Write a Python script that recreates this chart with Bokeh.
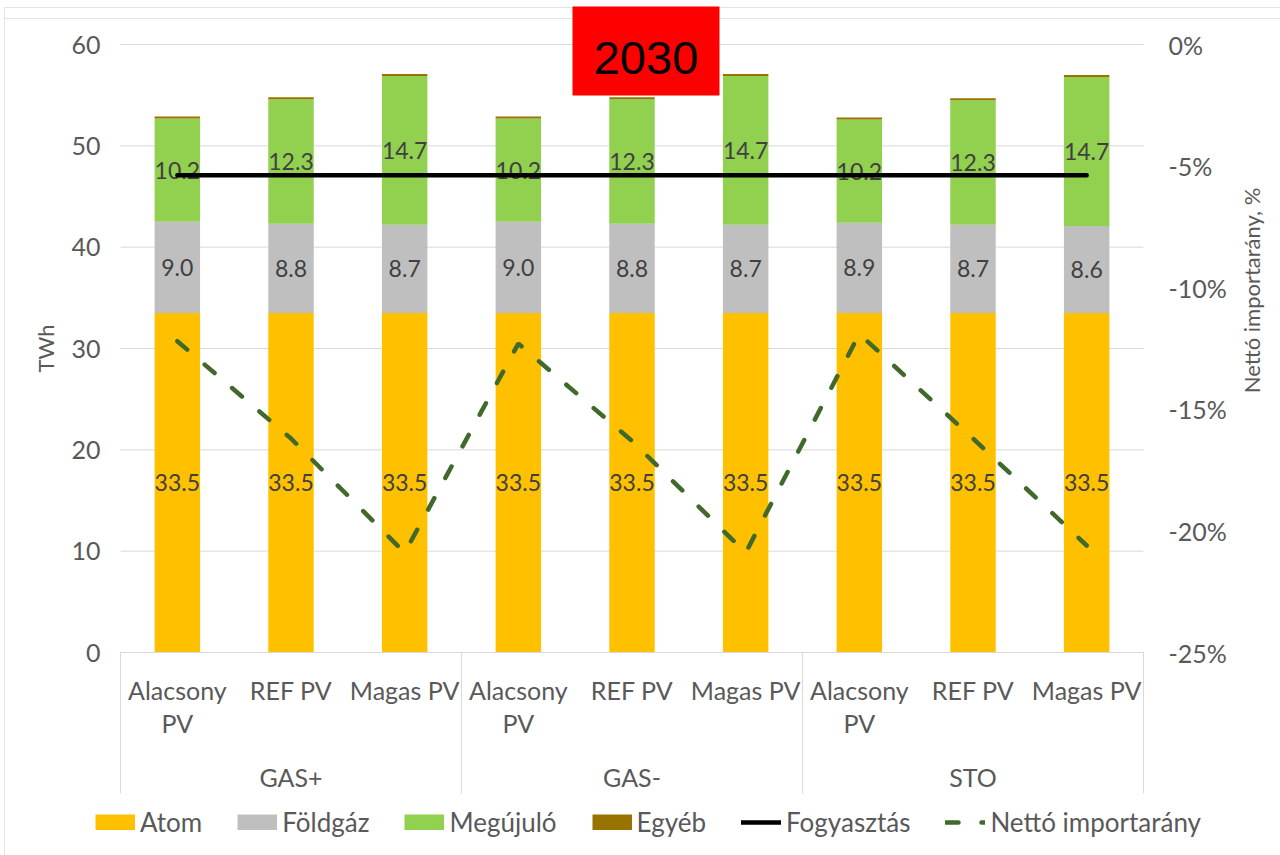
from math import pi

from bokeh.core.properties import value
from bokeh.embed import file_html
from bokeh.models import ColumnDataSource, Legend, LegendItem, Range1d
from bokeh.plotting import figure
from bokeh.resources import INLINE

# ---- data -----------------------------------------------------------------
scenarios = ["GAS+", "GAS-", "STO"]
pv_cases = ["Alacsony PV", "REF PV", "Magas PV"]
pv_tick_lines = [["Alacsony", "PV"], ["REF PV"], ["Magas PV"]]

atom = [33.5, 33.5, 33.5, 33.5, 33.5, 33.5, 33.5, 33.5, 33.5]
foldgaz = [9.0, 8.8, 8.7, 9.0, 8.8, 8.7, 8.9, 8.7, 8.6]
megujulo = [10.2, 12.3, 14.7, 10.2, 12.3, 14.7, 10.2, 12.3, 14.7]
egyeb = [0.2, 0.2, 0.2, 0.2, 0.2, 0.2, 0.2, 0.2, 0.2]
fogyasztas = [47.1, 47.1, 47.1, 47.1, 47.1, 47.1, 47.1, 47.1, 47.1]
netto_import = [-12.2, -16.2, -20.9, -12.3, -16.3, -20.9, -11.9, -16.2, -20.6]

twh_ticks = [0, 10, 20, 30, 40, 50, 60]
pct_ticks = [-25, -20, -15, -10, -5, 0]
year_label = "2030"

# ---- colours / fonts --------------------------------------------------------
C_ATOM, C_GAS, C_REN, C_OTHER = "#FFC000", "#BFBFBF", "#92D050", "#997300"
C_CONS, C_IMP = "#000000", "#41692C"
TXT, LBL, RULE = "#595959", "#404040", "#D9D9D9"
FONT = "Lato"

# ---- layout: the canvas is one frame, the bar area sits inside it -----------
W, H = 1280, 855
AREA_L, AREA_R, AREA_T, AREA_B = 120, 1143, 44, 652   # bar area, px
TWH_MAX, PCT_MIN = 60.0, -25.0
n = len(scenarios) * len(pv_cases)
ux = (AREA_R - AREA_L) / n          # px per category
uy = (AREA_B - AREA_T) / TWH_MAX    # px per TWh


def col(px):
    """canvas x pixel -> category coordinate"""
    return (px - AREA_L) / ux


def row(py):
    """canvas y pixel -> TWh coordinate"""
    return (AREA_B - py) / uy


def to_pct(v):
    return v * (-PCT_MIN) / TWH_MAX + PCT_MIN


xs = [i + 0.5 for i in range(n)]

p = figure(width=W, height=H, output_backend="svg", toolbar_location=None,
           x_range=Range1d(col(0), col(W)), y_range=Range1d(row(H), row(0)),
           x_axis_location=None, y_axis_location=None,
           min_border=0, min_border_left=0, min_border_right=0,
           min_border_top=0, min_border_bottom=0)
p.outline_line_color = None
p.background_fill_color = "white"
p.border_fill_color = "white"
p.grid.visible = False
p.extra_y_ranges = {"pct": Range1d(to_pct(row(H)), to_pct(row(0)))}

# chart border
p.segment(x0=[col(4), col(4)], y0=[row(7), row(18)], x1=[col(W), col(W)],
          y1=[row(7), row(18)], line_color="#E3E3E3", line_width=1)
p.segment(x0=[col(4)], y0=[row(7)], x1=[col(4)], y1=[row(H)],
          line_color="#E3E3E3", line_width=1)

# horizontal grid at the TWh ticks
p.segment(x0=[0] * len(twh_ticks), y0=twh_ticks, x1=[n] * len(twh_ticks),
          y1=twh_ticks, line_color=RULE, line_width=1)

# left axis (TWh) tick labels
p.text(x=[col(AREA_L - 20)] * len(twh_ticks), y=twh_ticks,
       text=[str(t) for t in twh_ticks], text_align="right",
       text_baseline="middle", text_font=value(FONT), text_font_size="25px",
       text_color=TXT)
# right axis (%) tick labels
p.text(x=[col(AREA_R + 25)] * len(pct_ticks), y=pct_ticks,
       text=[f"{t}%" for t in pct_ticks], y_range_name="pct",
       text_align="left", text_baseline="middle", text_font=value(FONT),
       text_font_size="25px", text_color=TXT)

# axis titles
p.text(x=[col(45)], y=[TWH_MAX / 2], text=["TWh"], angle=pi / 2,
       text_align="center", text_baseline="middle", text_font=value(FONT),
       text_font_size="22px", text_color=TXT)
p.text(x=[col(1251)], y=[row(290)], text=["Nettó importarány, %"],
       angle=pi / 2, text_align="center", text_baseline="middle",
       text_font=value(FONT), text_font_size="22px", text_color=TXT)

# ---- stacked bars -----------------------------------------------------------
src = ColumnDataSource(dict(x=xs, atom=atom, foldgaz=foldgaz,
                            megujulo=megujulo, egyeb=egyeb))
p.vbar_stack(["atom", "foldgaz", "megujulo", "egyeb"], x="x", width=0.4,
             source=src, color=[C_ATOM, C_GAS, C_REN, C_OTHER],
             line_color=None)

# value labels centred in each segment (Egyéb too thin to label)
lab_x, lab_y, lab_t = [], [], []
for i in range(n):
    base = 0.0
    for seg in (atom[i], foldgaz[i], megujulo[i]):
        lab_x.append(xs[i])
        lab_y.append(base + seg / 2.0)
        lab_t.append(f"{seg:.1f}")
        base += seg
p.text(x=lab_x, y=lab_y, text=lab_t, text_align="center",
       text_baseline="middle", text_font=value(FONT), text_font_size="23px",
       text_color=LBL)

# ---- lines ------------------------------------------------------------------
cons = p.line(xs, fogyasztas, line_color=C_CONS, line_width=4.5,
              line_cap="round")
imp = p.line(xs, netto_import, y_range_name="pct", line_color=C_IMP,
             line_width=4.5, line_dash="13 23", line_cap="round")

# ---- category axis (two levels) ---------------------------------------------
p.segment(x0=[0], y0=[0], x1=[n], y1=[0], line_color=RULE, line_width=1)
sep_x = [k * len(pv_cases) for k in range(len(scenarios) + 1)]
p.segment(x0=sep_x, y0=[0] * len(sep_x), x1=sep_x,
          y1=[row(793)] * len(sep_x), line_color=RULE, line_width=1)

line_y = [row(689), row(722)]
cx, cy, ct = [], [], []
for k in range(len(scenarios)):
    for j, lines in enumerate(pv_tick_lines):
        for li, t in enumerate(lines):
            cx.append(xs[k * len(pv_cases) + j])
            cy.append(line_y[li])
            ct.append(t)
    cx.append(k * len(pv_cases) + len(pv_cases) / 2.0)
    cy.append(row(776))
    ct.append(scenarios[k])
p.text(x=cx, y=cy, text=ct, text_align="center", text_baseline="middle",
       text_font=value(FONT), text_font_size="25px", text_color=TXT)

# ---- year badge -----------------------------------------------------------------
p.quad(left=[col(572)], right=[col(719)], bottom=[row(95)], top=[row(6)],
       fill_color="#FF0000", line_color=None)
p.text(x=[(col(572) + col(719)) / 2], y=[row(57)], text=[year_label],
       text_align="center", text_baseline="middle",
       text_font=value("Liberation Sans"), text_font_size="47px",
       text_color="#000000")

# ---- legend ---------------------------------------------------------------------
# swatches for the stacked series: wide butt-capped strokes give 40x16 patches
nan = float("nan")
sw = [p.line([nan], [nan], line_color=c, line_width=16, line_cap="butt")
      for c in (C_ATOM, C_GAS, C_REN, C_OTHER)]
legend = Legend(items=[
    LegendItem(label="Atom", renderers=[sw[0]]),
    LegendItem(label="Földgáz", renderers=[sw[1]]),
    LegendItem(label="Megújuló", renderers=[sw[2]]),
    LegendItem(label="Egyéb", renderers=[sw[3]]),
    LegendItem(label="Fogyasztás", renderers=[cons]),
    LegendItem(label="Nettó importarány", renderers=[imp]),
], orientation="horizontal", location=(95, 17), glyph_width=40,
    glyph_height=16, label_standoff=5, spacing=35, margin=0, padding=2,
    border_line_color=None, background_fill_alpha=0,
    label_text_font=FONT, label_text_font_size="26px", label_text_color=TXT)
p.add_layout(legend, "center")

open("out.html", "w").write(file_html(p, INLINE))
